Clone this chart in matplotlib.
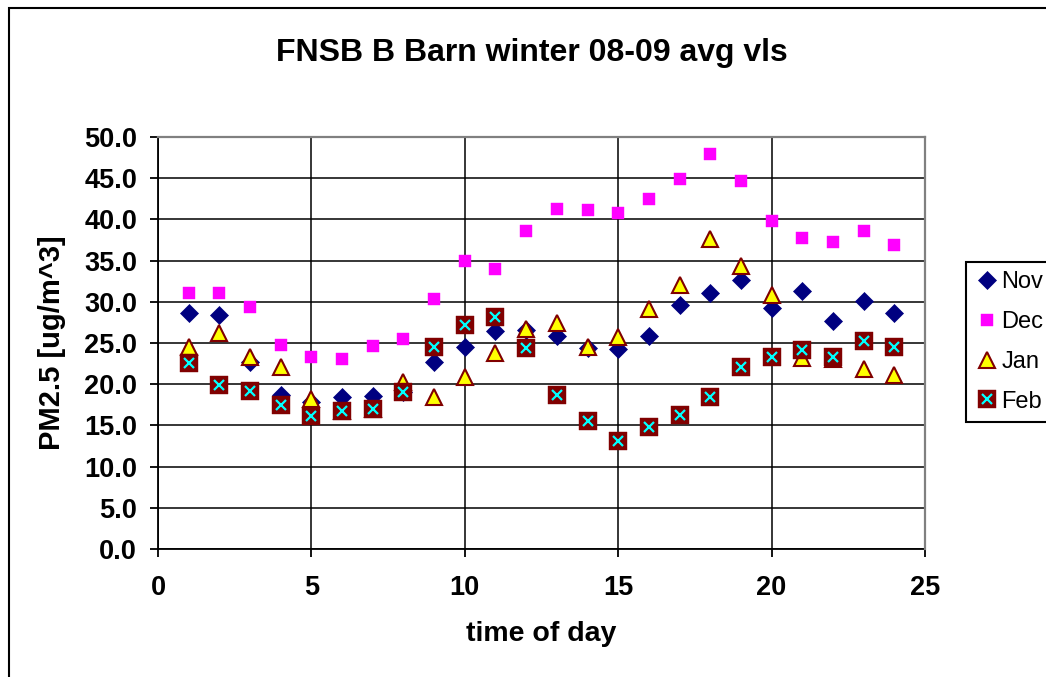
import matplotlib
matplotlib.use("Agg")
import matplotlib.pyplot as plt
from matplotlib.patches import Rectangle
from matplotlib.ticker import FuncFormatter, MultipleLocator

plt.rcParams['font.family'] = ['Liberation Sans', 'DejaVu Sans']

hours = list(range(1, 25))
nov = [28.7, 28.4, 22.7, 18.7, 17.8, 18.4, 18.6, 19.0, 22.7, 24.5, 26.5, 26.6,
       25.8, 24.4, 24.3, 25.8, 29.6, 31.1, 32.6, 29.3, 31.3, 27.7, 30.1, 28.7]
dec = [31.1, 31.1, 29.4, 24.8, 23.3, 23.1, 24.6, 25.5, 30.4, 35.0, 34.0, 38.6,
       41.3, 41.1, 40.8, 42.5, 44.9, 47.9, 44.7, 39.8, 37.7, 37.2, 38.6, 36.9]
jan = [24.5, 26.2, 23.3, 22.1, 18.2, 16.8, 17.0, 20.3, 18.5, 20.9, 23.8, 26.7,
       27.4, 24.5, 25.7, 29.1, 32.0, 37.6, 34.3, 30.8, 23.2, 23.1, 21.8, 21.1]
feb = [22.6, 19.9, 19.2, 17.5, 16.1, 16.7, 17.0, 19.0, 24.5, 27.2, 28.2, 24.4,
       18.7, 15.5, 13.1, 14.8, 16.3, 18.4, 22.1, 23.3, 24.1, 23.3, 25.3, 24.5]

W, H = 1046, 677
fig = plt.figure(figsize=(W / 100, H / 100), dpi=100)

# chart-area border (left and top visible)
fig.patches.append(Rectangle((8.5 / W, -0.1), 1.2, 1 - 7.5 / H + 0.1,
                             transform=fig.transFigure, fill=False,
                             edgecolor='black', linewidth=1.5))

left, right, top, bottom = 158, 925, 137, 549
ax = fig.add_axes([left / W, 1 - bottom / H, (right - left) / W, (bottom - top) / H])

ax.set_xlim(0, 25)
ax.set_ylim(0, 50)
ax.xaxis.set_major_locator(MultipleLocator(5))
ax.yaxis.set_major_locator(MultipleLocator(5))
ax.yaxis.set_major_formatter(FuncFormatter(lambda v, p: f"{v:.1f}"))
ax.xaxis.set_major_formatter(FuncFormatter(lambda v, p: f"{v:.0f}"))

ax.grid(True, color='black', linewidth=1.1, zorder=0)
ax.set_axisbelow(True)

for s in ('left', 'bottom'):
    ax.spines[s].set_color('black')
    ax.spines[s].set_linewidth(1.3)
for s in ('top', 'right'):
    ax.spines[s].set_color('#808080')
    ax.spines[s].set_linewidth(1.6)
    ax.spines[s].set_zorder(5)

ax.tick_params(axis='both', direction='out', length=6, width=1.3, color='black',
               labelsize=19.5)
ax.tick_params(axis='y', pad=9)
ax.tick_params(axis='x', pad=13)
for lab in ax.get_xticklabels() + ax.get_yticklabels():
    lab.set_fontweight('bold')

h_nov, = ax.plot(hours, nov, linestyle='none', marker='D', markersize=9.2,
                 markerfacecolor='#000080', markeredgecolor='#000080',
                 markeredgewidth=0.5, zorder=3, clip_on=False)
h_dec, = ax.plot(hours, dec, linestyle='none', marker='s', markersize=8.4,
                 markerfacecolor='#FF00FF', markeredgecolor='#FF00FF',
                 markeredgewidth=0.3, zorder=3, clip_on=False)
h_jan, = ax.plot(hours, jan, linestyle='none', marker='^', markersize=11.5,
                 markerfacecolor='#FFFF00', markeredgecolor='#800000',
                 markeredgewidth=1.5, zorder=3, clip_on=False)
h_feb_sq, = ax.plot(hours, feb, linestyle='none', marker='s', markersize=13,
                    markerfacecolor='#800000', markeredgecolor='#800000',
                    markeredgewidth=0.3, zorder=3, clip_on=False)
h_feb_x, = ax.plot(hours, feb, linestyle='none', marker='x', markersize=7,
                   markeredgecolor='#00FFFF', markeredgewidth=1.6, zorder=3,
                   clip_on=False)

ax.set_xlabel('time of day', fontsize=20.5, fontweight='bold', labelpad=14)
ax.set_ylabel('PM2.5 [ug/m^3]', fontsize=21, fontweight='bold', labelpad=13)

fig.text(532 / W, 1 - 53 / H, 'FNSB B Barn winter 08-09 avg vls',
         fontsize=23, fontweight='bold', ha='center', va='center')

leg = fig.legend([h_nov, h_dec, h_jan, (h_feb_sq, h_feb_x)],
                 ['Nov', 'Dec', 'Jan', 'Feb'],
                 loc='upper left', bbox_to_anchor=(966 / W, 1 - 262 / H),
                 bbox_transform=fig.transFigure, fontsize=17,
                 frameon=True, fancybox=False, shadow=False,
                 borderpad=0.4, borderaxespad=0, handlelength=1.0,
                 handletextpad=0.1, labelspacing=0.75)
leg.get_frame().set_edgecolor('black')
leg.get_frame().set_linewidth(1.5)
leg.get_frame().set_alpha(1)

fig.savefig('out.png', dpi=100)
